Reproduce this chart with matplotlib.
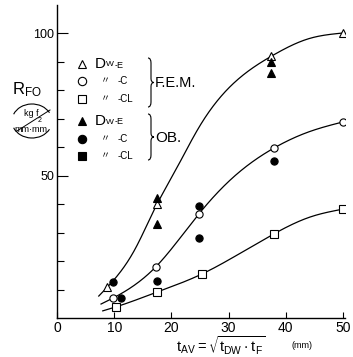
import numpy as np
import matplotlib
matplotlib.use("Agg")
import matplotlib.pyplot as plt
from matplotlib.patches import Arc, PathPatch
from matplotlib.path import Path
from matplotlib.lines import Line2D

plt.rcParams["font.family"] = ["Liberation Sans", "DejaVu Sans", "Noto Sans CJK JP"]
plt.rcParams["mathtext.fontset"] = "dejavusans"

# ---- data ----
# F.E.M. (open markers)
fem_e_x = [8.7, 17.5, 37.5, 50.0]
fem_e_y = [11.0, 40.0, 92.0, 100.0]
fem_c_x = [9.8, 17.3, 24.8, 37.9, 50.0]
fem_c_y = [7.0, 18.0, 36.5, 59.6, 68.8]
fem_cl_x = [10.3, 17.5, 25.3, 37.9, 50.0]
fem_cl_y = [3.9, 9.1, 15.4, 29.5, 38.2]
# O.B. (filled markers)
ob_e_x = [17.5, 17.5, 37.5, 37.5]
ob_e_y = [42.0, 33.0, 90.0, 86.0]
ob_c_x = [9.8, 11.2, 17.5, 24.8, 24.8, 37.9]
ob_c_y = [12.6, 7.0, 13.0, 39.3, 28.1, 55.1]

# hand-drawn fitted curves (knots)
curve_e_x = [7.3, 10.0, 13.6, 17.5, 20.1, 25.0, 31.5, 37.6, 44.0, 50.0]
curve_e_y = [7.7, 13.5, 24.0, 40.0, 49.5, 67.5, 83.5, 92.0, 98.0, 100.0]
curve_c_x = [7.7, 9.8, 17.3, 24.8, 30.6, 37.9, 44.0, 50.0]
curve_c_y = [4.9, 7.0, 18.0, 36.5, 49.0, 59.6, 65.3, 68.8]
curve_cl_x = [8.0, 10.3, 17.5, 25.3, 31.5, 37.9, 44.2, 50.0]
curve_cl_y = [2.5, 3.9, 9.1, 15.4, 22.1, 29.5, 35.4, 38.2]

x_ticks = [0, 10, 20, 30, 40, 50]
y_ticks = [50, 100]
y_minor = [10, 20, 30, 40, 60, 70, 80, 90]

W, H = 353, 357


def spline(xk, yk, n=300):
    # natural cubic spline through the knots
    x = np.asarray(xk, float)
    y = np.asarray(yk, float)
    h = np.diff(x)
    m = len(x)
    A = np.zeros((m, m))
    r = np.zeros(m)
    A[0, 0] = A[-1, -1] = 1.0
    for i in range(1, m - 1):
        A[i, i - 1] = h[i - 1]
        A[i, i] = 2 * (h[i - 1] + h[i])
        A[i, i + 1] = h[i]
        r[i] = 3 * ((y[i + 1] - y[i]) / h[i] - (y[i] - y[i - 1]) / h[i - 1])
    c = np.linalg.solve(A, r)
    b = (y[1:] - y[:-1]) / h - h * (2 * c[:-1] + c[1:]) / 3
    d = (c[1:] - c[:-1]) / (3 * h)
    xs = np.linspace(x[0], x[-1], n)
    idx = np.clip(np.searchsorted(x, xs) - 1, 0, m - 2)
    dx = xs - x[idx]
    return xs, y[idx] + b[idx] * dx + c[idx] * dx ** 2 + d[idx] * dx ** 3


def fx(px):
    return px / W


def fy(py):
    return 1 - py / H


fig = plt.figure(figsize=(W / 100, H / 100), dpi=100)
ax = fig.add_axes([fx(57), fy(318), (345 - 57) / W, (318 - 4.5) / H])

for cx, cy in [(curve_e_x, curve_e_y), (curve_c_x, curve_c_y), (curve_cl_x, curve_cl_y)]:
    xs, ys = spline(cx, cy)
    ax.plot(xs, ys, color="black", lw=0.9, zorder=2)

mk = dict(color="black", ls="none", ms=5.2, mew=0.8, zorder=3)
ax.plot(fem_e_x, fem_e_y, marker="^", mfc="white", **mk)
ax.plot(fem_c_x, fem_c_y, marker="o", mfc="white", **mk)
ax.plot(fem_cl_x, fem_cl_y, marker="s", mfc="white", **mk)
ax.plot(ob_e_x, ob_e_y, marker="^", mfc="black", **mk)
ax.plot(ob_c_x, ob_c_y, marker="o", mfc="black", **mk)

ax.set_xlim(0, 50.35)
ax.set_ylim(0, 110)
for s in ["top", "right"]:
    ax.spines[s].set_visible(False)
ax.spines["left"].set_linewidth(1.0)
ax.spines["bottom"].set_linewidth(1.0)

ax.set_xticks(x_ticks)
ax.set_xticklabels([str(t) for t in x_ticks], fontsize=10)
ax.set_yticks(y_ticks)
ax.set_yticklabels([str(t) for t in y_ticks], fontsize=9)
ax.set_yticks(y_minor, minor=True)
ax.tick_params(axis="x", direction="in", length=4, width=0.8, pad=2)
ax.tick_params(axis="y", which="major", direction="in", length=8, width=0.8, pad=2)
ax.tick_params(axis="y", which="minor", direction="in", length=5, width=0.8)

# ---- y label with unit ----
fig.text(fx(12), fy(90), r"$\mathregular{R_{FO}}$", fontsize=12, va="center", ha="left")
fig.text(fx(31), fy(113), "kg f", fontsize=6.5, va="center", ha="center")
fig.text(fx(40), fy(121), "2", fontsize=5, va="center", ha="center")
fig.text(fx(31), fy(129), "mm·mm", fontsize=6.5, va="center", ha="center")
fig.add_artist(Line2D([fx(17), fx(50)], [fy(131), fy(110)], color="black", lw=0.7,
                      transform=fig.transFigure))
fig.add_artist(Arc((fx(32), fy(121)), 40 / W, 34 / H, theta1=25, theta2=160,
                   transform=fig.transFigure, color="black", lw=0.8))
fig.add_artist(Arc((fx(32), fy(121)), 40 / W, 34 / H, theta1=200, theta2=335,
                   transform=fig.transFigure, color="black", lw=0.8))

# ---- x label ----
fig.text(fx(176), fy(346), r"$\mathregular{t_{AV} = \sqrt{t_{DW} \cdot t_F}}$",
         fontsize=10.5, va="center", ha="left")
fig.text(fx(292), fy(345), "(mm)", fontsize=6.5, va="center", ha="left")

# ---- legend ----
rows_y = [64, 81, 99, 121, 139, 156]
markers = ["^", "o", "s", "^", "o", "s"]
faces = ["white", "white", "white", "black", "black", "black"]
suffix = ["-E", "-C", "-CL", "-E", "-C", "-CL"]
for i, (ry, m, fc, sf) in enumerate(zip(rows_y, markers, faces, suffix)):
    fig.add_artist(Line2D([fx(82)], [fy(ry)], marker=m, mfc=fc, mec="black", ms=6,
                          mew=0.8, ls="none", transform=fig.transFigure))
    if sf == "-E":
        fig.text(fx(95), fy(ry), "D", fontsize=11, va="center", ha="left")
        fig.text(fx(106), fy(ry + 1), "W", fontsize=6, va="center", ha="left")
        fig.text(fx(115), fy(ry + 1), sf, fontsize=6.5, va="center", ha="left")
    else:
        fig.text(fx(101), fy(ry), "〃", fontsize=6.5, va="center", ha="left",
                 family=["Noto Sans CJK JP", "DejaVu Sans"])
        fig.text(fx(118), fy(ry), sf, fontsize=7, va="center", ha="left")


def brace(x, y0, y1, w):
    ym = (y0 + y1) / 2
    pts = [(x, y0), (x + w / 2, y0), (x + w / 2, y0 + 5),
           (x + w / 2, ym - 4), (x + w / 2, ym), (x + w, ym),
           (x + w / 2, ym), (x + w / 2, ym + 4),
           (x + w / 2, y1 - 5), (x + w / 2, y1), (x, y1)]
    codes = [Path.MOVETO, Path.CURVE3, Path.CURVE3, Path.LINETO,
             Path.CURVE3, Path.CURVE3, Path.CURVE3, Path.CURVE3,
             Path.LINETO, Path.CURVE3, Path.CURVE3]
    path = Path([(fx(a), fy(b)) for a, b in pts], codes)
    fig.add_artist(PathPatch(path, fc="none", ec="black", lw=0.8, transform=fig.transFigure))


brace(148, 58, 107, 6)
brace(148, 114, 160, 6)
fig.text(fx(155), fy(83), "F.E.M.", fontsize=10.5, va="center", ha="left")
fig.text(fx(155), fy(138), "OB.", fontsize=11, va="center", ha="left")

fig.savefig("out.png", dpi=100)
